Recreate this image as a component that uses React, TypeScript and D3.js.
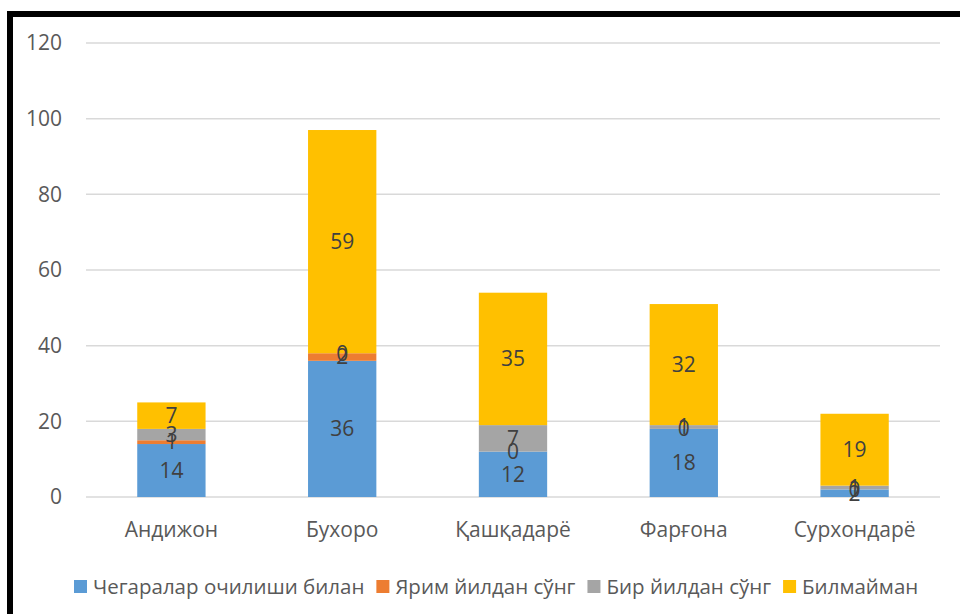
import React, { useRef, useEffect } from 'react';
import * as d3 from 'd3';

// regions
const categories = ['Андижон', 'Бухоро', 'Қашқадарё', 'Фарғона', 'Сурхондарё'];
// series (stacked bottom -> top)
const seriesNames = ['Чегаралар очилиши билан', 'Ярим йилдан сўнг', 'Бир йилдан сўнг', 'Билмайман'];
const openBorders = [14, 36, 12, 18, 2];
const halfYear = [1, 2, 0, 0, 0];
const oneYear = [3, 0, 7, 1, 1];
const dontKnow = [7, 59, 35, 32, 19];
const colors = ['#5b9bd5', '#ed7d31', '#a5a5a5', '#ffc000'];
const yTicks = [0, 20, 40, 60, 80, 100, 120];

const W = 960;
const H = 614;
const FONT = '"Open Sans", sans-serif';

const App = () => {
  const svgRef = useRef<SVGSVGElement>(null);

  useEffect(() => {
    document.body.style.margin = '0';
    const svg = d3.select(svgRef.current);
    svg.selectAll('*').remove();

    svg.append('rect').attr('width', W).attr('height', H).attr('fill', '#fff');

    const margin = { top: 43, right: 20, bottom: 117, left: 86 };
    const innerW = W - margin.left - margin.right;
    const innerH = H - margin.top - margin.bottom;

    const rows = categories.map((c, i) => ({
      cat: c,
      s0: openBorders[i],
      s1: halfYear[i],
      s2: oneYear[i],
      s3: dontKnow[i],
    }));
    const keys = ['s0', 's1', 's2', 's3'];
    const stacked = d3.stack<any>().keys(keys)(rows);

    const x = d3.scaleBand().domain(categories).range([0, innerW]).paddingInner(0.6).paddingOuter(0.3);
    const y = d3.scaleLinear().domain([0, 120]).range([innerH, 0]);

    const g = svg.append('g').attr('transform', `translate(${margin.left},${margin.top})`);

    // gridlines
    g.selectAll('.grid')
      .data(yTicks)
      .enter()
      .append('line')
      .attr('x1', 0)
      .attr('x2', innerW)
      .attr('y1', d => y(d))
      .attr('y2', d => y(d))
      .attr('stroke', '#d9d9d9')
      .attr('stroke-width', 1.5);

    // y tick labels
    g.selectAll('.ytick')
      .data(yTicks)
      .enter()
      .append('text')
      .attr('x', -24)
      .attr('y', d => y(d))
      .attr('dy', '0.35em')
      .attr('text-anchor', 'end')
      .attr('font-family', FONT)
      .attr('font-size', 21)
      .attr('fill', '#595959')
      .text(d => d);

    // bars
    stacked.forEach((layer, si) => {
      g.selectAll(`.bar${si}`)
        .data(layer)
        .enter()
        .append('rect')
        .attr('x', d => x(d.data.cat)!)
        .attr('y', d => y(d[1]))
        .attr('width', x.bandwidth())
        .attr('height', d => y(d[0]) - y(d[1]))
        .attr('fill', colors[si]);
    });

    // data labels (zero-height segments still get a label, as in the source)
    stacked.forEach(layer => {
      g.selectAll(null)
        .data(layer)
        .enter()
        .append('text')
        .attr('x', d => x(d.data.cat)! + x.bandwidth() / 2)
        .attr('y', d => y((d[0] + d[1]) / 2))
        .attr('dy', '0.35em')
        .attr('text-anchor', 'middle')
        .attr('font-family', FONT)
        .attr('font-size', 21)
        .attr('fill', '#404040')
        .text(d => d[1] - d[0]);
    });

    // category labels
    g.selectAll('.xlab')
      .data(categories)
      .enter()
      .append('text')
      .attr('x', d => x(d)! + x.bandwidth() / 2)
      .attr('y', innerH + 33)
      .attr('dy', '0.35em')
      .attr('text-anchor', 'middle')
      .attr('font-family', FONT)
      .attr('font-size', 21)
      .attr('fill', '#595959')
      .text(d => d);

    // legend
    const legend = svg.append('g').attr('transform', 'translate(0,587)');
    let lx = 74;
    seriesNames.forEach((name, i) => {
      legend.append('rect').attr('x', lx).attr('y', -7).attr('width', 13).attr('height', 13).attr('fill', colors[i]);
      const t = legend
        .append('text')
        .attr('x', lx + 19)
        .attr('y', 0)
        .attr('dy', '0.35em')
        .attr('font-family', FONT)
        .attr('font-size', 20.5)
        .attr('fill', '#595959')
        .text(name);
      const tw = (t.node() as SVGTextElement).getComputedTextLength();
      lx = lx + 19 + tw + 12;
    });

    // outer frame
    svg.append('rect')
      .attr('x', 10)
      .attr('y', 14)
      .attr('width', W + 20)
      .attr('height', H + 20)
      .attr('fill', 'none')
      .attr('stroke', '#000')
      .attr('stroke-width', 6);
  }, []);

  return <svg ref={svgRef} width={W} height={H} style={{ display: 'block' }}></svg>;
};

export default App;
